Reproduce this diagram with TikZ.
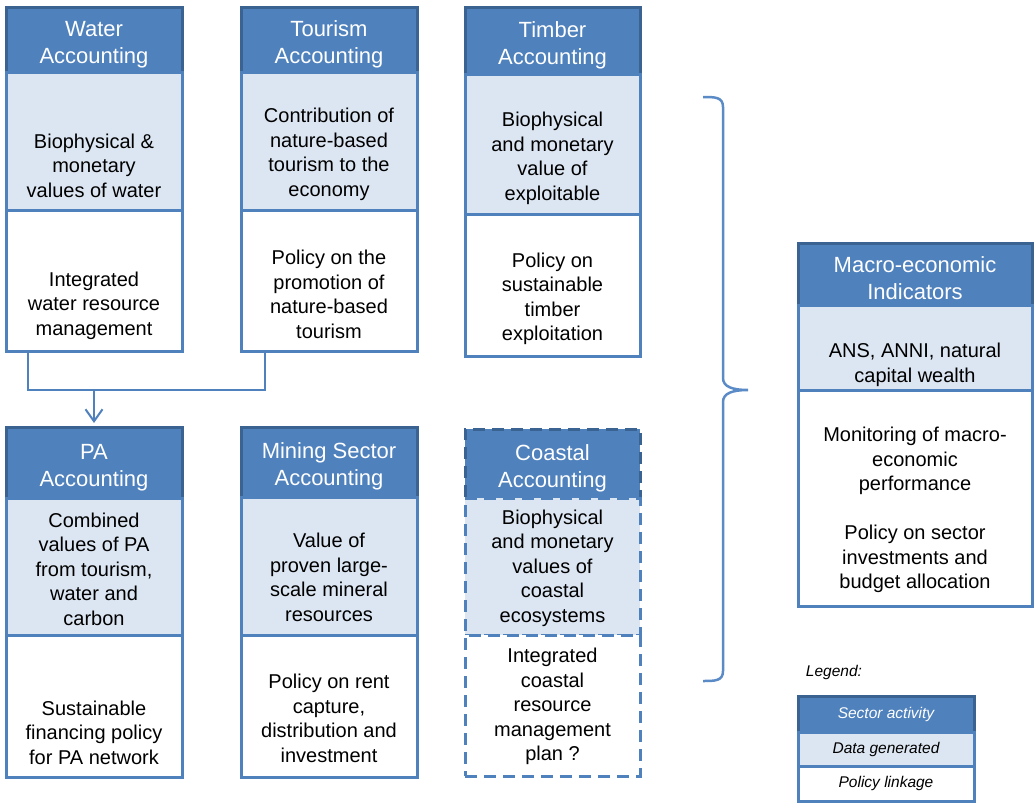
\documentclass[tikz,border=0pt]{standalone}
\usepackage{fontspec}
\setmainfont{Liberation Sans}
\usetikzlibrary{positioning,calc,arrows.meta}
\definecolor{hdrblue}{HTML}{4F81BD}
\definecolor{hdrline}{HTML}{3B6392}
\definecolor{boxline}{HTML}{4F81BD}
\definecolor{datafill}{HTML}{DCE6F2}
\definecolor{bracecol}{HTML}{5B8BC7}

\begin{document}
\begin{tikzpicture}[x=1pt,y=-1pt,
    headbox/.style ={rectangle, draw=hdrline, fill=hdrblue, line width=3pt, outer sep=0pt,
        inner sep=2pt, minimum width=176pt, text=white, align=center, text height=52pt,
        font=\fontsize{22}{27}\selectfont},
    databox/.style ={rectangle, draw=boxline, fill=datafill, line width=3pt, outer sep=0pt,
        minimum width=176pt, align=center},
    polbox/.style ={rectangle, draw=boxline, fill=white, line width=3pt, outer sep=0pt,
        minimum width=176pt, align=center},
    dashbox/.style ={dash pattern=on 12pt off 7pt},
    bodytext/.style ={align=center, text=black, font=\fontsize{20}{24.5}\selectfont},
    legtext/.style ={font=\fontsize{15.5}{19}\selectfont\itshape},
    link/.style ={draw=boxline, line width=2pt}]
    \useasboundingbox (0,0) rectangle (1036,803);

    % row 1 - water, tourism, timber
    \node [headbox, minimum height=65pt, anchor=north west] (water) at (6,7) {Water\\Accounting};
    \node [databox, minimum height=138pt, below=0pt of water] (waterdata) {};
    \node [polbox, minimum height=141pt, below=0pt of waterdata] (waterpol) {};
    \node [bodytext] (waterdatatxt) at (94,165.5) {Biophysical \&\\monetary\\values of water};
    \node [bodytext] (waterpoltxt) at (94,305.5) {Integrated\\water resource\\management};

    \node [headbox, minimum height=65pt, anchor=north west] (tour) at (241,7) {Tourism\\Accounting};
    \node [databox, minimum height=138pt, below=0pt of tour] (tourdata) {};
    \node [polbox, minimum height=141pt, below=0pt of tourdata] (tourpol) {};
    \node [bodytext] (tourdatatxt) at (329,154.5) {Contribution of\\nature-based\\tourism to the\\economy};
    \node [bodytext] (tourpoltxt) at (329,294.5) {Policy on the\\promotion of\\nature-based\\tourism};

    \node [headbox, minimum height=67pt, minimum width=175pt, anchor=north west] (timber) at (465,7) {Timber\\Accounting};
    \node [databox, minimum height=140pt, minimum width=175pt, below=0pt of timber] (timberdata) {};
    \node [polbox, minimum height=142pt, minimum width=175pt, below=0pt of timberdata] (timberpol) {};
    \node [bodytext] (timberdatatxt) at (552.5,158.5) {Biophysical\\and monetary\\value of\\exploitable};
    \node [bodytext] (timberpoltxt) at (552.5,299) {Policy on\\sustainable\\timber\\exploitation};

    % row 2 - PA, mining, coastal
    \node [headbox, minimum height=71pt, anchor=north west] (pa) at (6,427) {PA\\Accounting};
    \node [databox, minimum height=137pt, below=0pt of pa] (padata) {};
    \node [polbox, minimum height=142pt, below=0pt of padata] (papol) {};
    \node [bodytext] (padatatxt) at (94,569) {Combined\\values of PA\\from tourism,\\water and\\carbon};
    \node [bodytext] (papoltxt) at (94,732.5) {Sustainable\\financing policy\\for PA network};

    \node [headbox, minimum height=70pt, anchor=north west] (mining) at (241,427) {Mining Sector\\Accounting};
    \node [databox, minimum height=138pt, below=0pt of mining] (miningdata) {};
    \node [polbox, minimum height=142pt, below=0pt of miningdata] (miningpol) {};
    \node [bodytext] (miningdatatxt) at (329,577.5) {Value of\\proven large-\\scale mineral\\resources};
    \node [bodytext] (miningpoltxt) at (329,718.5) {Policy on rent\\capture,\\distribution and\\investment};

    \node [headbox, dashbox, minimum height=69pt, minimum width=175pt, anchor=north west] (coast) at (465,429) {Coastal\\Accounting};
    \node [databox, dashbox, minimum height=137pt, minimum width=175pt, below=0pt of coast] (coastdata) {};
    \node [polbox, dashbox, minimum height=141pt, minimum width=175pt, below=0pt of coastdata] (coastpol) {};
    \node [bodytext] (coastdatatxt) at (552.5,568) {Biophysical\\and monetary\\values of\\coastal\\ecosystems};
    \node [bodytext] (coastpoltxt) at (552.5,706.5) {Integrated\\coastal\\resource\\management\\plan ?};

    % macro-economic indicators
    \node [headbox, minimum height=62pt, minimum width=234pt, anchor=north west] (macro) at (798,243) {Macro-economic\\Indicators};
    \node [databox, minimum height=85pt, minimum width=234pt, below=0pt of macro] (macrodata) {};
    \node [polbox, minimum height=216pt, minimum width=234pt, below=0pt of macrodata] (macropol) {};
    \node [bodytext] (macrodatatxt) at (915,365) {ANS, ANNI, natural\\capital wealth};
    \node [bodytext] (macropoltxt) at (915,510) {Monitoring of macro-\\economic\\performance\\[24.5pt]Policy on sector\\investments and\\budget allocation};

    % legend
    \node [legtext] (legend) at (834,672) {Legend:};
    \node [headbox, legtext, text height=11.5pt, minimum height=36pt, anchor=north west] (legsector) at (798,696) {Sector activity};
    \node [databox, legtext, minimum height=34pt, below=0pt of legsector] (legdata) {Data generated};
    \node [polbox, legtext, minimum height=35pt, below=0pt of legdata] (legpolicy) {Policy linkage};

    % connector into PA accounting
    \coordinate (join) at ($(pa.north)+(0,-37)$);
    \draw [link] ([xshift=22pt]waterpol.south west) |- (join) -| ([xshift=24pt]tourpol.south west);
    \draw [link, -{Straight Barb[length=12pt,width=17pt]}, shorten >=4pt] (join) -- (pa.north);

    % brace towards the indicators
    \draw [bracecol, line width=2.5pt] (703,97) .. controls (715,97) and (723,97) .. (723,107)
        -- (723,378) .. controls (723,387) and (733,390) .. (748,390)
        .. controls (733,390) and (723,393) .. (723,402)
        -- (723,671) .. controls (723,681) and (715,681) .. (703,681);
\end{tikzpicture}
\end{document}
